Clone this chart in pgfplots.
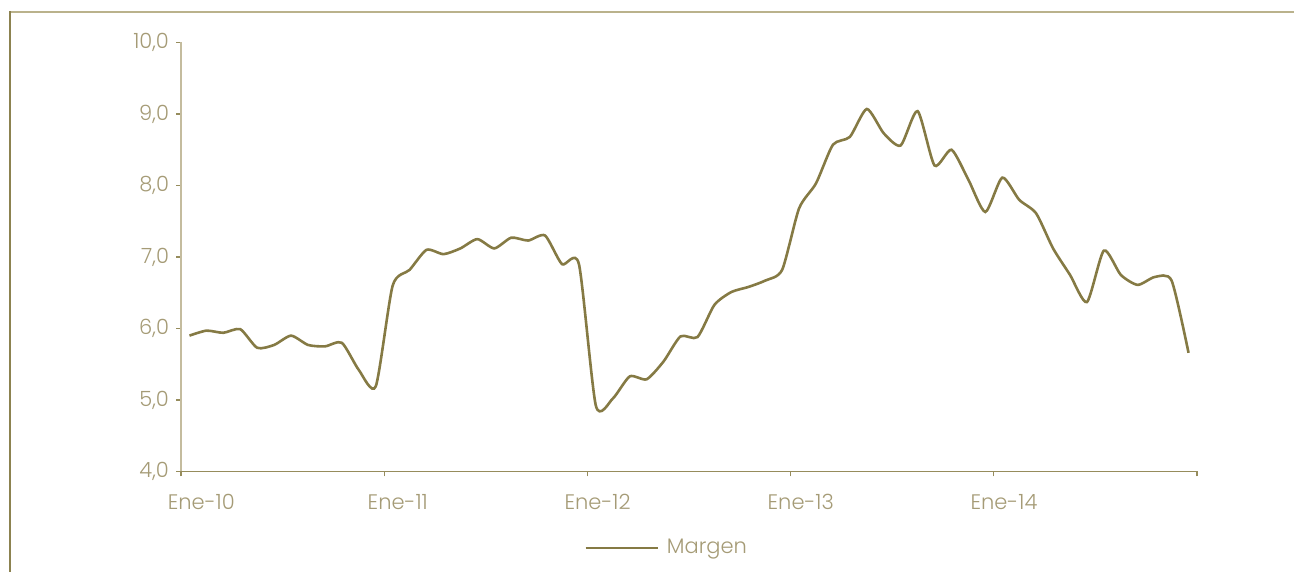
\documentclass[border=0pt]{standalone}
\usepackage{fontspec}
\setmainfont{Poppins Light}
\usepackage{pgfplots}
\pgfplotsset{compat=1.18}
\definecolor{lineC}{RGB}{133,122,68}
\definecolor{tickC}{RGB}{165,155,118}
\definecolor{yaxisC}{RGB}{196,188,158}
\definecolor{xaxisC}{RGB}{150,140,92}
\definecolor{frameTop}{RGB}{186,178,140}
\definecolor{frameLeft}{RGB}{140,130,80}
\begin{document}
\begin{tikzpicture}
\useasboundingbox (0,0) rectangle (647pt,286pt);
\draw[frameTop, line width=0.75pt] (5pt,280pt) -- (650pt,280pt);
\draw[frameLeft, line width=0.75pt] (5pt,280.375pt) -- (5pt,-5pt);
\begin{axis}[
  at={(90.5pt,50.25pt)}, anchor=south west,
  scale only axis, width=508pt, height=214.5pt,
  xmin=-0.5, xmax=59.5, ymin=4, ymax=10,
  axis x line=bottom, axis y line=left,
  x axis line style={-, draw=xaxisC, line width=0.8pt},
  y axis line style={-, draw=yaxisC, line width=0.8pt},
  tick align=outside, major tick length=2.5pt,
  xtick={-0.5,11.5,23.5,35.5,47.5,59.5}, xticklabels={},
  x tick style={draw=xaxisC, line width=0.6pt},
  y tick style={draw=xaxisC, line width=0.6pt},
  extra x ticks={0.7,12.3,24.1,36.1,48.1},
  extra x tick labels={Ene-10,Ene-11,Ene-12,Ene-13,Ene-14},
  extra x tick style={major tick length=0pt, xticklabel style={yshift=-8pt}},
  ytick={4,5,6,7,8,9,10},
  yticklabel style={/pgf/number format/.cd, fixed, fixed zerofill, precision=1, use comma, assume math mode=true},
  tick label style={font=\fontsize{10.5}{12}\selectfont, text=tickC},
  legend style={at={(0.479,-0.178)}, anchor=center, draw=none, fill=none, font=\fontsize{10.5}{12}\selectfont, text=tickC},
  legend image code/.code={\draw[#1] (0pt,0pt) -- (36pt,0pt); \path (38pt,0pt);},
  clip=false,
]
\addplot[lineC, line width=1.3pt, smooth, tension=0.4] coordinates {
(0,5.90) (1,5.97) (2,5.94) (3,5.99) (4,5.73) (5,5.77) (6,5.90) (7,5.77) (8,5.75) (9,5.80)
(10,5.42) (11,5.19) (12,6.60) (13,6.82) (14,7.10) (15,7.04) (16,7.12) (17,7.25) (18,7.12) (19,7.27)
(20,7.23) (21,7.30) (22,6.90) (23,6.90) (24,4.92) (25,5.02) (26,5.33) (27,5.29) (28,5.54) (29,5.89)
(30,5.88) (31,6.33) (32,6.51) (33,6.58) (34,6.67) (35,6.82) (36,7.68) (37,8.03) (38,8.57) (39,8.68)
(40,9.07) (41,8.73) (42,8.56) (43,9.04) (44,8.28) (45,8.50) (46,8.08) (47,7.63) (48,8.11) (49,7.80)
(50,7.61) (51,7.12) (52,6.75) (53,6.37) (54,7.09) (55,6.75) (56,6.61) (57,6.72) (58,6.67) (59,5.66)
};
\addlegendentry{Margen}
\end{axis}
\end{tikzpicture}
\end{document}
